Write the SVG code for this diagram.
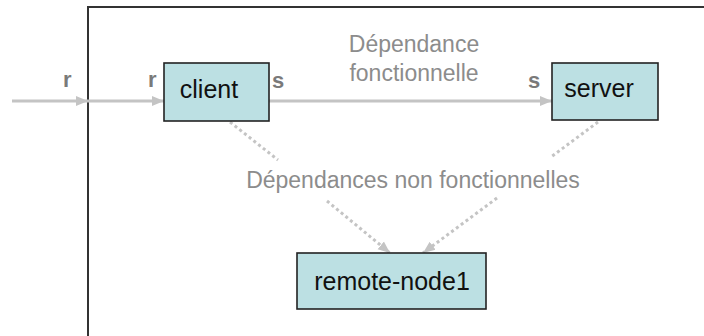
<svg xmlns="http://www.w3.org/2000/svg" width="704" height="336" viewBox="0 0 704 336">
<style>
.box{fill:#bce0e3;stroke:#222;stroke-width:1.6}
.name{font-family:"Liberation Sans",Arial,sans-serif;font-size:25px;fill:#111;text-anchor:middle}
.lbl{font-family:"Liberation Sans",Arial,sans-serif;font-size:23px;fill:#8c8c8c;text-anchor:middle}
.port{font-family:"Liberation Sans",Arial,sans-serif;font-size:22px;font-weight:bold;fill:#7a7a7a}
.solid{stroke:#c4c4c4;stroke-width:3;fill:none}
.dot{stroke:#c4c4c4;stroke-width:3;fill:none;stroke-dasharray:3 3}
</style>
<defs>
<marker id="ah" markerUnits="userSpaceOnUse" markerWidth="12" markerHeight="12" viewBox="0 0 12 12" refX="12" refY="6" orient="auto">
<path d="M0,1 L12,6 L0,11 Z" fill="#c4c4c4"/>
</marker>
</defs>
<g id="frame">
<path d="M88,336 L88,7 L704,7" fill="none" stroke="#333" stroke-width="2"/>
</g>
<g id="connectors">
<line class="solid" x1="12" y1="101" x2="88" y2="101" marker-end="url(#ah)"/>
<line class="solid" x1="88" y1="101" x2="164" y2="101" marker-end="url(#ah)"/>
<line class="solid" x1="269" y1="101" x2="552" y2="101" marker-end="url(#ah)"/>
<line class="dot" x1="230" y1="122" x2="278" y2="160"/>
<line class="dot" x1="327" y1="201" x2="390" y2="253" marker-end="url(#ah)"/>
<line class="dot" x1="598" y1="122" x2="551" y2="157"/>
<line class="dot" x1="497" y1="198" x2="423" y2="253" marker-end="url(#ah)"/>
<text class="lbl" x="414" y="52">Dépendance</text>
<text class="lbl" x="414" y="81">fonctionnelle</text>
<text class="lbl" x="413" y="188">Dépendances non fonctionnelles</text>
<text class="port" x="63" y="87">r</text>
<text class="port" x="148" y="87">r</text>
<text class="port" x="272" y="88">s</text>
<text class="port" x="528" y="88">s</text>
</g>
<g id="client">
<rect class="box" x="164" y="63" width="105" height="58"/>
<text class="name" x="209" y="98">client</text>
</g>
<g id="server">
<rect class="box" x="552" y="63" width="106" height="57"/>
<text class="name" x="599" y="97">server</text>
</g>
<g id="remote-node1">
<rect class="box" x="297" y="253" width="189" height="56"/>
<text class="name" x="392" y="290">remote-node1</text>
</g>
</svg>
